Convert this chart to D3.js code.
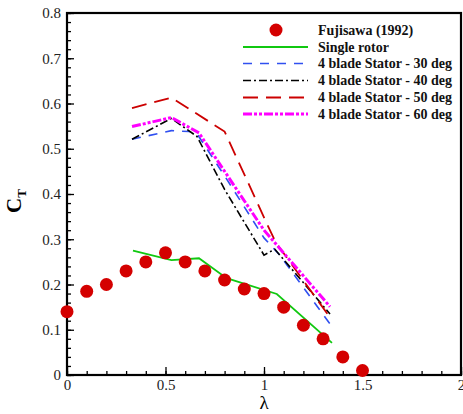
<!DOCTYPE html>
<html><head><meta charset="utf-8">
<script src="https://cdn.jsdelivr.net/npm/d3@7"></script>
<style>body{margin:0;background:#fff}svg{display:block}</style>
</head><body>
<script>
const fujiX = [0,0.1,0.2,0.3,0.4,0.5,0.6,0.7,0.8,0.9,1.0,1.1,1.2,1.3,1.4,1.5];
const fujiY = [0.14,0.185,0.2,0.23,0.25,0.27,0.25,0.23,0.21,0.19,0.18,0.15,0.11,0.08,0.04,0.01];
const singleX = [0.335,0.53,0.67,0.81,1.065,1.345];
const singleY = [0.275,0.254,0.258,0.214,0.179,0.071];
const s30X = [0.33,0.53,0.62,0.66,0.8,1.0,1.08,1.335];
const s30Y = [0.521,0.54,0.538,0.533,0.44,0.303,0.265,0.113];
const s40X = [0.33,0.53,0.66,0.8,1.0,1.055,1.335];
const s40Y = [0.521,0.567,0.527,0.41,0.265,0.278,0.135];
const s50X = [0.33,0.53,0.8,1.03,1.06,1.337];
const s50Y = [0.59,0.613,0.538,0.32,0.293,0.126];
const s60X = [0.33,0.53,0.67,0.8,1.0,1.335];
const s60Y = [0.549,0.569,0.535,0.45,0.32,0.151];
const legendLabels = ["Fujisawa (1992)","Single rotor","4 blade Stator - 30 deg","4 blade Stator - 40 deg","4 blade Stator - 50 deg","4 blade Stator - 60 deg"];
const xTicks = [0,0.5,1,1.5,2];
const xTickLabels = ["0","0.5","1","1.5","2"];
const yTicks = [0,0.1,0.2,0.3,0.4,0.5,0.6,0.7,0.8];
const yTickLabels = ["0","0.1","0.2","0.3","0.4","0.5","0.6","0.7","0.8"];

const W=463,H=414;
const L=67,R=461,T=13,B=375;
const svg=d3.select("body").append("svg").attr("width",W).attr("height",H);
const x=d3.scaleLinear().domain([0,2]).range([L,R]);
const y=d3.scaleLinear().domain([0,0.8]).range([B,T]);
const serif="'Liberation Serif','Times New Roman',serif";

const series=[
 {xs:singleX,ys:singleY,color:"#10c810",dash:null,w:1.8},
 {xs:s30X,ys:s30Y,color:"#3050f0",dash:"9,8",w:1.6},
 {xs:s40X,ys:s40Y,color:"#000",dash:"8,3,2,3",w:1.6},
 {xs:s50X,ys:s50Y,color:"#cc0000",dash:"15,8",w:1.8},
 {xs:s60X,ys:s60Y,color:"#ff00ff",dash:"9,2,3,2,3,2",w:3}
];
const line=d3.line().x(d=>x(d[0])).y(d=>y(d[1]));
series.forEach(s=>{
  svg.append("path").attr("d",line(s.xs.map((v,i)=>[v,s.ys[i]])))
   .attr("fill","none").attr("stroke",s.color).attr("stroke-width",s.w)
   .attr("stroke-dasharray",s.dash);
});

// axes with inward ticks
const xAx=svg.append("g").attr("transform",`translate(0,${B})`)
  .call(d3.axisBottom(x).tickValues(d3.range(0,2.0001,0.1)).tickSize(-4).tickFormat(""));
xAx.select(".domain").remove();
const xMaj=svg.append("g").attr("transform",`translate(0,${B})`)
  .call(d3.axisBottom(x).tickValues(xTicks).tickSize(-8).tickPadding(9).tickFormat((d,i)=>xTickLabels[i]));
xMaj.select(".domain").remove();
const yAx=svg.append("g").attr("transform",`translate(${L},0)`)
  .call(d3.axisLeft(y).tickValues(d3.range(0,0.8001,0.02)).tickSize(-4).tickFormat(""));
yAx.select(".domain").remove();
const yMaj=svg.append("g").attr("transform",`translate(${L},0)`)
  .call(d3.axisLeft(y).tickValues(yTicks).tickSize(-7).tickPadding(6).tickFormat((d,i)=>yTickLabels[i]));
yMaj.select(".domain").remove();
svg.selectAll(".tick line").attr("stroke","#000").attr("stroke-width",1.3);
svg.selectAll(".tick text").attr("font-family",serif).attr("font-size",15).attr("fill","#222");
xMaj.selectAll(".tick text").attr("dy","0.4em");

svg.append("rect").attr("x",L).attr("y",T).attr("width",R-L).attr("height",B-T)
  .attr("fill","none").attr("stroke","#000").attr("stroke-width",2.2);

// markers
svg.append("g").selectAll("circle").data(fujiX.map((v,i)=>[v,fujiY[i]])).join("circle")
  .attr("cx",d=>x(d[0])).attr("cy",d=>y(d[1])).attr("r",6.5).attr("fill","#d40000");

// labels
svg.append("text").attr("x",x(1)).attr("y",409).attr("text-anchor","middle")
  .attr("font-family",serif).attr("font-size",19).text("λ");
const yl=svg.append("text").attr("transform","translate(21,201) rotate(-90)").attr("text-anchor","middle")
  .attr("font-family",serif).attr("font-size",21).attr("font-weight","bold");
yl.append("tspan").text("C");
yl.append("tspan").attr("font-size",13).attr("dy",5).text("T");

// legend
const lg=svg.append("g");
const rowY=[30,47,63.5,80.5,97.5,114];
legendLabels.forEach((lab,i)=>{
  const cy=rowY[i];
  if(i===0){
    lg.append("circle").attr("cx",276).attr("cy",cy).attr("r",6.5).attr("fill","#d40000");
  } else {
    const s=series[i-1];
    lg.append("line").attr("x1",243).attr("x2",308).attr("y1",cy).attr("y2",cy)
      .attr("stroke",s.color).attr("stroke-width",s.w).attr("stroke-dasharray",s.dash);
  }
  lg.append("text").attr("x",318).attr("y",cy+4.5).attr("font-family",serif)
    .attr("font-size",14).attr("font-weight","bold").attr("fill","#111").text(lab);
});
</script>
</body></html>
